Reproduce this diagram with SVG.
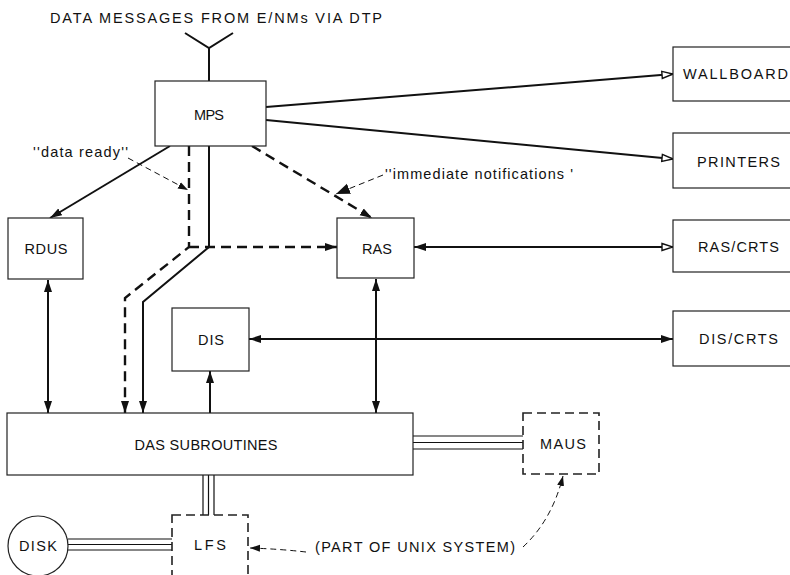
<svg xmlns="http://www.w3.org/2000/svg" width="790" height="575" viewBox="0 0 790 575">
<style>
text{font-family:"Liberation Sans",Arial,sans-serif;font-size:14.5px;fill:#111}
.lbl{text-anchor:middle}
.box{fill:#fff;stroke:#222;stroke-width:1.2}
.dbox{fill:#fff;stroke:#222;stroke-width:1.6;stroke-dasharray:9 5}
.ln{fill:none;stroke:#111;stroke-width:2}
.dln{fill:none;stroke:#111;stroke-width:2.4;stroke-dasharray:10 6}
.tdl{fill:none;stroke:#111;stroke-width:1;stroke-dasharray:6 4}
.tri{fill:none;stroke:#111;stroke-width:1.2}
</style>
<defs>
<marker id="af" markerUnits="userSpaceOnUse" markerWidth="14" markerHeight="10" refX="12" refY="5" orient="auto-start-reverse" viewBox="0 0 14 10"><path d="M0,1 L12,5 L0,9 Z" fill="#111"/></marker>
<marker id="ao" markerUnits="userSpaceOnUse" markerWidth="14" markerHeight="10" refX="12" refY="5" orient="auto" viewBox="0 0 14 10"><path d="M1,1.5 L12,5 L1,8.5 Z" fill="#fff" stroke="#111" stroke-width="1.4"/></marker>
<marker id="as" markerUnits="userSpaceOnUse" markerWidth="12" markerHeight="8" refX="10" refY="4" orient="auto" viewBox="0 0 12 8"><path d="M0,0.5 L10,4 L0,7.5 Z" fill="#111"/></marker>
<marker id="ab" markerUnits="userSpaceOnUse" markerWidth="16" markerHeight="12" refX="14" refY="6" orient="auto" viewBox="0 0 16 12"><path d="M0,0.5 L14,6 L0,11.5 Z" fill="#111"/></marker>
</defs>
<rect width="790" height="575" fill="#fff"/>

<text x="50" y="23" textLength="332">DATA MESSAGES FROM E/NMs VIA DTP</text>

<g id="connectors">
<path class="ln" d="M185,33 L209,48 L233,33 M209,48 V81"/>
<path class="ln" d="M266,107 L673,74" marker-end="url(#ao)"/>
<path class="ln" d="M266,120 L673,159" marker-end="url(#ao)"/>
<path class="ln" d="M170,146 L50,218" marker-end="url(#af)"/>
<path class="dln" d="M252,146 L372,218" marker-end="url(#af)"/>
<path class="ln" d="M209,146 V247 L143,302 V413" marker-end="url(#af)"/>
<path class="dln" d="M189,146 V247 L125,298 V413" marker-end="url(#af)"/>
<path class="dln" d="M189,247 H337" marker-end="url(#af)"/>
<path class="ln" d="M48,280 V413" marker-start="url(#af)" marker-end="url(#af)"/>
<path class="ln" d="M376,279 V413" marker-start="url(#af)" marker-end="url(#af)"/>
<path class="ln" d="M414,247 H673" marker-start="url(#af)" marker-end="url(#ao)"/>
<path class="ln" d="M249,339 H673" marker-start="url(#af)" marker-end="url(#af)"/>
<path class="ln" d="M210,413 V371" marker-end="url(#af)"/>
<path class="tri" d="M203,475 V515 M208.5,475 V515 M214,475 V515"/>
<path class="tri" d="M413,436 H523 M413,442.5 H523 M413,449 H523"/>
<path class="tri" d="M68,539 H172 M68,544.5 H172 M68,550 H172"/>
<path class="tdl" d="M128,158 L188,190" marker-end="url(#as)"/>
<path class="tdl" d="M383,175 L336,194" marker-end="url(#ab)"/>
<path class="tdl" d="M306,552 Q280,549 250,548" marker-end="url(#as)"/>
<path class="tdl" d="M523,547 Q552,520 563,476" marker-end="url(#as)"/>
</g>

<g id="mps"><rect class="box" x="155" y="81" width="111" height="65"/><text class="lbl" x="209" y="120" textLength="30">MPS</text></g>
<g id="wallboard"><rect class="box" x="673" y="47" width="130" height="54"/><text x="683" y="79" textLength="105">WALLBOARD</text></g>
<g id="printers"><rect class="box" x="673" y="133" width="130" height="55"/><text x="697" y="167" textLength="83">PRINTERS</text></g>
<g id="rdus"><rect class="box" x="8" y="218" width="75" height="61"/><text class="lbl" x="46" y="254" textLength="43">RDUS</text></g>
<g id="ras"><rect class="box" x="337" y="218" width="77" height="60"/><text class="lbl" x="377" y="254" textLength="30">RAS</text></g>
<g id="rascrts"><rect class="box" x="673" y="220" width="130" height="52"/><text x="698" y="252" textLength="81">RAS/CRTS</text></g>
<g id="dis"><rect class="box" x="172" y="308" width="77" height="63"/><text class="lbl" x="211" y="345" textLength="26">DIS</text></g>
<g id="discrts"><rect class="box" x="673" y="311" width="130" height="55"/><text x="699" y="344" textLength="79">DIS/CRTS</text></g>
<g id="das"><rect class="box" x="7" y="413" width="406" height="62"/><text class="lbl" x="206" y="450" textLength="143">DAS SUBROUTINES</text></g>
<g id="maus"><rect class="dbox" x="523" y="413" width="76" height="61"/><text class="lbl" x="563" y="449" textLength="46">MAUS</text></g>
<g id="lfs"><rect class="dbox" x="172" y="515" width="76" height="75"/><text class="lbl" x="210" y="550" textLength="32">LFS</text></g>
<g id="disk"><circle cx="38" cy="546" r="30" fill="#fff" stroke="#222" stroke-width="1.2"/><text class="lbl" x="38" y="551" textLength="38">DISK</text></g>

<text x="33" y="157" textLength="95">''data ready''</text>
<text x="385" y="179" textLength="188">''immediate notifications '</text>
<text x="315" y="552" textLength="200">(PART OF UNIX SYSTEM)</text>
</svg>
